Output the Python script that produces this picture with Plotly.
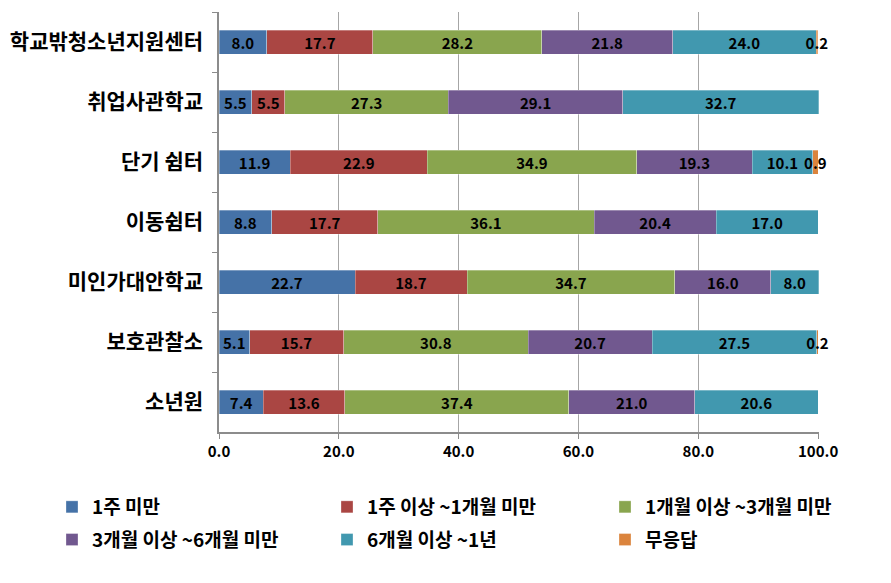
import plotly.graph_objects as go

categories = ["학교밖청소년지원센터", "취업사관학교", "단기 쉼터", "이동쉼터", "미인가대안학교", "보호관찰소", "소년원"]
series_names = ["1주 미만", "1주 이상 ~1개월 미만", "1개월 이상 ~3개월 미만", "3개월 이상 ~6개월 미만", "6개월 이상 ~1년", "무응답"]
s1 = [8.0, 5.5, 11.9, 8.8, 22.7, 5.1, 7.4]
s2 = [17.7, 5.5, 22.9, 17.7, 18.7, 15.7, 13.6]
s3 = [28.2, 27.3, 34.9, 36.1, 34.7, 30.8, 37.4]
s4 = [21.8, 29.1, 19.3, 20.4, 16.0, 20.7, 21.0]
s5 = [24.0, 32.7, 10.1, 17.0, 8.0, 27.5, 20.6]
s6 = [0.2, None, 0.9, None, None, 0.2, None]
x_ticks = [0, 20, 40, 60, 80, 100]

colors = ["#4572A7", "#AA4643", "#89A54E", "#71588F", "#4198AF", "#DB843D"]
legend_ids = ["legend", "legend2", "legend3", "legend", "legend2", "legend3"]
FONT = "Noto Sans CJK KR"

fig = go.Figure()
all_series = [s1, s2, s3, s4, s5, s6]
for i, (name, vals, col) in enumerate(zip(series_names, all_series, colors)):
    fig.add_trace(go.Bar(
        y=categories, x=vals, name=name, orientation="h",
        marker=dict(color=col, line=dict(color="rgba(255,255,255,0.6)", width=0.5)),
        text=[("" if v is None else f"{v:.1f}") for v in vals],
        textposition="inside", insidetextanchor="middle", textangle=0,
        constraintext="none", cliponaxis=False,
        textfont=dict(family=FONT, size=15, color="black", weight="bold"),
        width=0.4,
        legend=legend_ids[i], legendgroup=f"g{i}",
    ))

legend_font = dict(family=FONT, size=19, color="black", weight="bold")
def leg(xpx):
    return dict(
        orientation="v", xref="container", yref="container",
        x=xpx / 891, y=1 - 488 / 583, xanchor="left", yanchor="top",
        font=legend_font, traceorder="grouped", tracegroupgap=5,
        itemwidth=30, bgcolor="rgba(0,0,0,0)",
    )

fig.update_layout(
    barmode="stack",
    width=891, height=583,
    margin=dict(l=219, r=72, t=12, b=151, autoexpand=False),
    paper_bgcolor="white", plot_bgcolor="white",
    font=dict(family=FONT, color="black"),
    showlegend=True,
    legend=leg(52), legend2=leg(327), legend3=leg(605),
)
fig.update_xaxes(
    range=[0, 100.15], tickvals=x_ticks, tickformat=".1f",
    showgrid=True, gridcolor="#A6A6A6", gridwidth=1.3,
    showline=True, linecolor="#8C8C8C", linewidth=1.5,
    ticks="outside", ticklen=5, tickcolor="#8C8C8C",
    tickfont=dict(family=FONT, size=15, color="black", weight="bold"),
    zeroline=False, fixedrange=True, automargin=False,
)
fig.update_yaxes(
    autorange="reversed", categoryorder="array", categoryarray=categories,
    showline=True, linecolor="#8C8C8C", linewidth=1.5,
    ticks="outside", ticklen=5, tickcolor="#8C8C8C", tickson="boundaries",
    tickfont=dict(family=FONT, size=21, color="black", weight="bold"),
    ticklabelstandoff=10,
    showgrid=False, fixedrange=True, automargin=False,
)

fig.write_html("out.html", config={"displayModeBar": False},
               post_script="document.body.style.margin='0';")
